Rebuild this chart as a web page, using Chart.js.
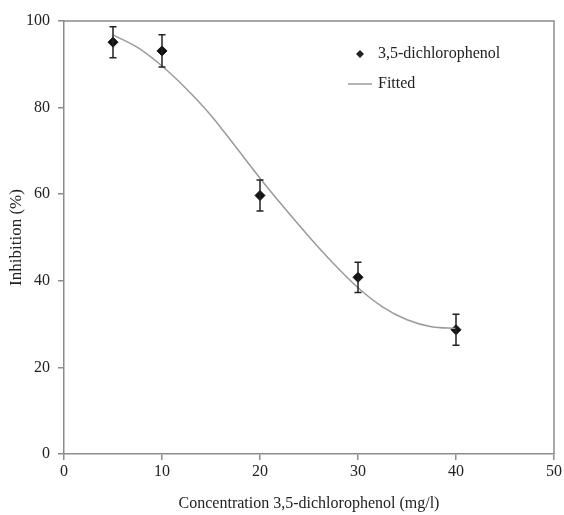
<!DOCTYPE html>
<html>
<head>
<meta charset="utf-8">
<script src="https://cdn.jsdelivr.net/npm/chart.js@4"></script>
<style>
  html, body { margin: 0; padding: 0; background: #fff; }
  #wrap { width: 564px; height: 515px; }
</style>
</head>
<body>
<div id="wrap"><canvas id="chart" width="564" height="515"></canvas></div>
<script>
// Measured points (mean inhibition with error)
const concentrations = [5, 10, 20, 30, 40];
const inhibition = [95.1, 93.1, 59.7, 40.8, 28.7];
const inhibitionErr = [3.6, 3.7, 3.6, 3.5, 3.6];

// Fitted curve
const fitX = [5, 7.5, 10, 12.5, 15, 17.5, 20, 22.5, 25, 27.5, 30, 32.5, 35, 37.5, 40];
const fitY = [96.8, 93.9, 89.6, 84.3, 78.2, 71.0, 63.7, 56.8, 50.2, 44.0, 38.4, 34.0, 31.0, 29.4, 29.0];

// Axis ranges
const xTicks = [0, 10, 20, 30, 40, 50];
const yTicks = [0, 20, 40, 60, 80, 100];

const serif = "'Liberation Serif', 'Times New Roman', serif";
const axisGray = '#8c8c8c';

// error bars for the measured series
const errorBars = {
    id: 'errorBars',
    afterDatasetsDraw(chart) {
        const { ctx, scales: { x, y } } = chart;
        ctx.save();
        ctx.strokeStyle = '#222';
        ctx.lineWidth = 1.5;
        concentrations.forEach((c, i) => {
            const px = x.getPixelForValue(c);
            const top = y.getPixelForValue(inhibition[i] + inhibitionErr[i]);
            const bot = y.getPixelForValue(inhibition[i] - inhibitionErr[i]);
            ctx.beginPath();
            ctx.moveTo(px, top); ctx.lineTo(px, bot);
            ctx.moveTo(px - 3.5, top); ctx.lineTo(px + 3.5, top);
            ctx.moveTo(px - 3.5, bot); ctx.lineTo(px + 3.5, bot);
            ctx.stroke();
        });
        ctx.restore();
    }
};

// box around the plot area + legend inside it
const frameAndLegend = {
    id: 'frameAndLegend',
    afterDraw(chart) {
        const { ctx, chartArea: a } = chart;
        ctx.save();
        ctx.strokeStyle = axisGray;
        ctx.lineWidth = 1.5;
        ctx.beginPath();
        ctx.moveTo(a.left, a.top); ctx.lineTo(a.right, a.top); ctx.lineTo(a.right, a.bottom);
        ctx.stroke();

        const ds = chart.data.datasets;
        const lx = a.left + 296, ly = a.top + 33;
        ctx.font = '16px ' + serif;
        ctx.fillStyle = '#222';
        ctx.textBaseline = 'middle';
        // diamond marker
        ctx.beginPath();
        ctx.moveTo(lx, ly - 4); ctx.lineTo(lx + 4, ly); ctx.lineTo(lx, ly + 4); ctx.lineTo(lx - 4, ly);
        ctx.closePath();
        ctx.fill();
        ctx.fillText(ds[1].label, lx + 18, ly);
        // line sample
        ctx.strokeStyle = ds[0].borderColor;
        ctx.lineWidth = 1.5;
        ctx.beginPath();
        ctx.moveTo(lx - 12, ly + 30); ctx.lineTo(lx + 12, ly + 30);
        ctx.stroke();
        ctx.fillText(ds[0].label, lx + 18, ly + 30);
        ctx.restore();
    }
};

new Chart(document.getElementById('chart'), {
    type: 'scatter',
    data: {
        datasets: [{
            label: 'Fitted',
            type: 'line',
            data: fitX.map((v, i) => ({ x: v, y: fitY[i] })),
            borderColor: '#9a9a9a',
            borderWidth: 1.5,
            pointRadius: 0,
            fill: false,
            cubicInterpolationMode: 'monotone'
        }, {
            label: '3,5-dichlorophenol',
            data: concentrations.map((v, i) => ({ x: v, y: inhibition[i] })),
            pointStyle: 'rectRot',
            pointRadius: 5,
            backgroundColor: '#111',
            borderColor: '#111'
        }]
    },
    options: {
        responsive: false,
        animation: false,
        layout: { padding: { top: 21, right: 7, left: 0, bottom: 0 } },
        plugins: {
            legend: { display: false },
            tooltip: { enabled: false }
        },
        scales: {
            x: {
                type: 'linear',
                min: xTicks[0],
                max: xTicks[xTicks.length - 1],
                afterBuildTicks: s => { s.ticks = xTicks.map(v => ({ value: v })); },
                afterFit: s => { s.height = 61; },
                grid: { drawOnChartArea: false, color: axisGray, tickLength: 6, lineWidth: 1.5 },
                border: { color: axisGray, width: 1.5 },
                ticks: { color: '#222', font: { family: serif, size: 16 }, padding: 2 },
                title: {
                    display: true,
                    text: 'Concentration 3,5-dichlorophenol (mg/l)',
                    color: '#222',
                    font: { family: serif, size: 16 },
                    padding: { top: 0, bottom: 2 }
                }
            },
            y: {
                min: yTicks[0],
                max: yTicks[yTicks.length - 1],
                afterBuildTicks: s => { s.ticks = yTicks.map(v => ({ value: v })); },
                afterFit: s => { s.width = 64; },
                grid: { drawOnChartArea: false, color: axisGray, tickLength: 6, lineWidth: 1.5 },
                border: { color: axisGray, width: 1.5 },
                ticks: { color: '#222', font: { family: serif, size: 16 }, padding: 8 },
                title: {
                    display: true,
                    text: 'Inhibition (%)',
                    color: '#222',
                    font: { family: serif, size: 17 },
                    padding: { top: 6, bottom: 0 }
                }
            }
        }
    },
    plugins: [errorBars, frameAndLegend]
});
</script>
</body>
</html>
